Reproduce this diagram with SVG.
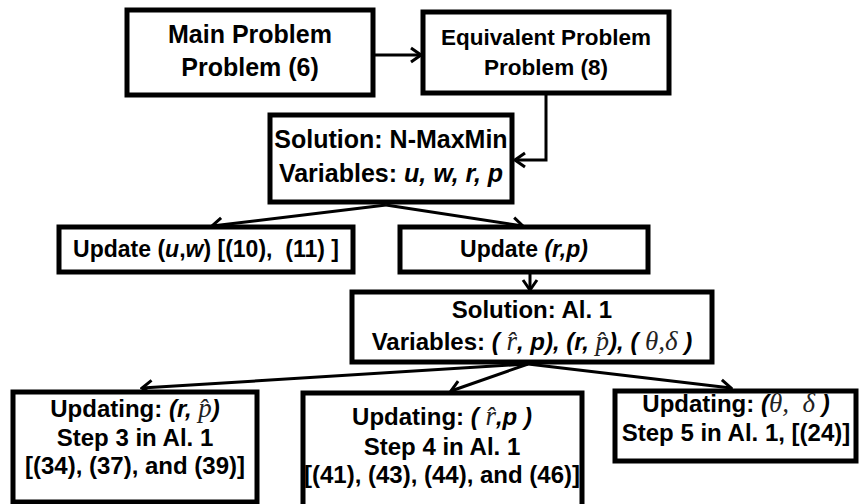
<svg xmlns="http://www.w3.org/2000/svg" width="859" height="504" viewBox="0 0 859 504">
<style>
.box{fill:#fff;stroke:#000;stroke-width:5}
.t{font-family:"Liberation Sans",Arial,sans-serif;font-weight:bold;fill:#000;text-anchor:middle;white-space:pre}
.i{font-style:italic}
.m{font-family:"Liberation Serif","DejaVu Serif",serif;font-style:italic;font-weight:normal;fill:#222;font-size:27px}
.c{fill:none;stroke:#000;stroke-width:3;marker-end:url(#ah)}
</style>
<defs>
<marker id="ah" viewBox="-12 -9 14 18" refX="0" refY="0" markerWidth="14" markerHeight="18" markerUnits="userSpaceOnUse" orient="auto">
<path d="M-10,-7 L0,0 L-10,7" fill="none" stroke="#000" stroke-width="3"/>
</marker>
</defs>
<rect width="859" height="504" fill="#fff"/>
<g id="connectors">
<path class="c" d="M373,55 H421"/>
<path class="c" d="M546,95 V160 H515"/>
<path class="c" d="M386,205 L212,226"/>
<path class="c" d="M386,205 L523,226"/>
<path class="c" d="M530,274 V290"/>
<path class="c" d="M528,364 L142,388"/>
<path class="c" d="M528,364 L451,391"/>
<path class="c" d="M528,364 L731,388"/>
</g>
<g id="main-problem">
<rect class="box" x="127" y="10" width="246" height="85"/>
<text class="t" x="250" y="43" font-size="25">Main Problem</text>
<text class="t" x="250" y="76" font-size="25">Problem (6)</text>
</g>
<g id="equivalent-problem">
<rect class="box" x="423" y="12" width="246" height="81"/>
<text class="t" x="546" y="45" font-size="22.5">Equivalent Problem</text>
<text class="t" x="546" y="75" font-size="22.5">Problem (8)</text>
</g>
<g id="n-maxmin">
<rect class="box" x="270" y="115" width="242" height="87"/>
<text class="t" x="391" y="148" font-size="25">Solution: N-MaxMin</text>
<text class="t" x="391" y="182" font-size="25">Variables: <tspan class="i">u, w, r, p</tspan></text>
</g>
<g id="update-uw">
<rect class="box" x="59" y="227" width="294" height="45"/>
<text class="t" x="206" y="257" font-size="23">Update (<tspan class="i">u</tspan>,<tspan class="i">w</tspan>) [(10),  (11) ]</text>
</g>
<g id="update-rp">
<rect class="box" x="400" y="227" width="248" height="45"/>
<text class="t" x="524" y="257" font-size="23">Update <tspan class="i">(r,p)</tspan></text>
</g>
<g id="al1">
<rect class="box" x="352" y="292" width="360" height="70"/>
<text class="t" x="532" y="318" font-size="24">Solution: Al. 1</text>
<text class="t" x="532" y="350" font-size="24">Variables: <tspan class="i">( </tspan><tspan class="m">r&#x302;</tspan><tspan class="i">, p), (r, </tspan><tspan class="m">p&#x302;</tspan><tspan class="i">), ( </tspan><tspan class="m">θ,δ</tspan><tspan class="i"> )</tspan></text>
</g>
<g id="step3">
<rect class="box" x="13" y="392" width="244" height="110"/>
<text class="t" x="135" y="417" font-size="24">Updating: <tspan class="i">(r, </tspan><tspan class="m">p&#x302;</tspan><tspan class="i">)</tspan></text>
<text class="t" x="135" y="446" font-size="24">Step 3 in Al. 1</text>
<text class="t" x="135" y="474" font-size="24">[(34), (37), and (39)]</text>
</g>
<g id="step4">
<rect class="box" x="303" y="393" width="279" height="122"/>
<text class="t" x="442" y="425" font-size="24">Updating: <tspan class="i">( </tspan><tspan class="m">r&#x302;</tspan><tspan class="i">,p )</tspan></text>
<text class="t" x="442" y="455" font-size="24">Step 4 in Al. 1</text>
<text class="t" x="442" y="483" font-size="24">[(41), (43), (44), and (46)]</text>
</g>
<g id="step5">
<rect class="box" x="615" y="391" width="241" height="70"/>
<text class="t" x="736" y="412" font-size="24">Updating: <tspan class="i">(</tspan><tspan class="m">θ,  δ</tspan><tspan class="i"> )</tspan></text>
<text class="t" x="736" y="441" font-size="24">Step 5 in Al. 1, [(24)]</text>
</g>
</svg>
